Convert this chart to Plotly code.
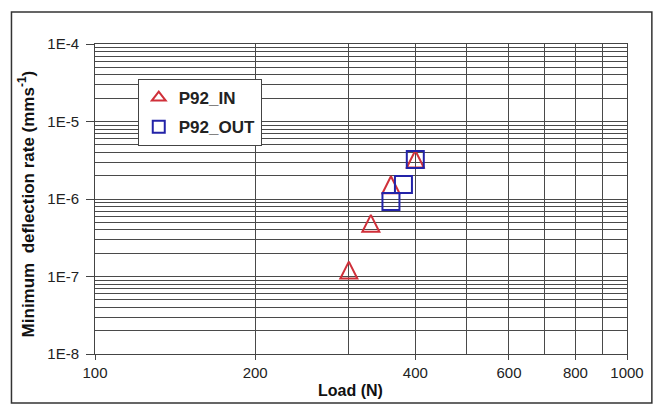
import plotly.graph_objects as go

# Data
in_load = [300, 330, 360, 400]
in_rate = [1.21e-7, 4.85e-7, 1.53e-6, 3.28e-6]
out_load = [360, 380, 400]
out_rate = [9.3e-7, 1.54e-6, 3.24e-6]

x_tickvals = [100, 200, 400, 600, 800, 1000]
x_ticktext = ["100", "200", "400", "600", "800", "1000"]
y_tickvals = [1e-8, 1e-7, 1e-6, 1e-5, 1e-4]
y_ticktext = ["1E-8", "1E-7", "1E-6", "1E-5", "1E-4"]

RED = "#d0303a"
BLUE = "#2323a8"
GRID = "#4a4a4a"
FONT = "Liberation Sans, Arial, sans-serif"

fig = go.Figure()
# legend entry for P92_IN (plain triangle symbol, no data of its own)
fig.add_trace(go.Scatter(
    x=[None], y=[None], mode="markers", name="P92_IN", legendgroup="a",
    marker=dict(symbol="triangle-up-open", size=12, color=RED,
                line=dict(color=RED, width=2)),
))
# P92_IN data: equal-width/height open triangles centred on the point
fig.add_trace(go.Scatter(
    x=in_load, y=in_rate, mode="markers", name="P92_IN", legendgroup="a",
    showlegend=False,
    marker=dict(symbol="arrow-down-open", angle=180, size=17, standoff=8.5, color=RED,
                line=dict(color=RED, width=2)),
))
fig.add_trace(go.Scatter(
    x=out_load, y=out_rate, mode="markers", name="P92_OUT", legendgroup="b",
    marker=dict(symbol="square-open", size=17, color=BLUE,
                line=dict(color=BLUE, width=2)),
))

W, H = 656, 405
L, R, T, B = 95, 26, 44, 51
pw, ph = W - L - R, H - T - B

fig.update_layout(
    width=W, height=H,
    margin=dict(l=L, r=R, t=T, b=B),
    paper_bgcolor="white", plot_bgcolor="white",
    font=dict(family=FONT, size=14, color="#222"),
    showlegend=True,
    legend=dict(
        x=(138 - L) / pw, y=1 - (79 - T) / ph, xanchor="left", yanchor="top",
        bgcolor="white", bordercolor="#444", borderwidth=1,
        font=dict(family=FONT, size=17, color="#222", weight="bold"),
        itemsizing="constant", tracegroupgap=4,
    ),
    xaxis=dict(
        type="log", range=[2, 3],
        tickvals=x_tickvals, ticktext=x_ticktext,
        showgrid=True, gridcolor=GRID, gridwidth=1,
        minor=dict(dtick="D1", showgrid=True, gridcolor=GRID, gridwidth=1, ticks=""),
        ticks="outside", ticklen=5, tickcolor="#444",
        showline=True, linecolor="#444", mirror=True,
        zeroline=False,
        tickfont=dict(family=FONT, size=15, color="#222"),
    ),
    yaxis=dict(
        type="log", range=[-8, -4],
        tickvals=y_tickvals, ticktext=y_ticktext,
        showgrid=True, gridcolor=GRID, gridwidth=1,
        minor=dict(dtick="D1", showgrid=True, gridcolor=GRID, gridwidth=1, ticks=""),
        ticks="outside", ticklen=8, tickcolor="#444",
        showline=True, linecolor="#444", mirror=True,
        zeroline=False, ticklabelstandoff=4,
        tickfont=dict(family=FONT, size=15, color="#222"),
    ),
    annotations=[
        dict(text="Load (N)", xref="paper", yref="paper",
             x=(352 - L) / pw, y=-(390 - (H - B)) / ph,
             xanchor="center", yanchor="middle", showarrow=False,
             font=dict(family=FONT, size=16, color="#111", weight="bold")),
        dict(text="Minimum  deflection rate (mms<sup>-1</sup>)", xref="paper", yref="paper",
             x=(26 - L) / pw, y=1 - (204 - T) / ph, textangle=-90,
             xanchor="center", yanchor="middle", showarrow=False,
             font=dict(family=FONT, size=17, color="#111", weight="bold")),
    ],
    shapes=[dict(
        type="rect", xref="paper", yref="paper",
        x0=(11 - L) / pw, x1=(655 - L) / pw,
        y0=-(403 - (H - B)) / ph, y1=1 + (T - 12) / ph,
        line=dict(color="#333", width=1.5), fillcolor="rgba(0,0,0,0)", layer="below",
    )],
)

fig.write_html("out.html")
